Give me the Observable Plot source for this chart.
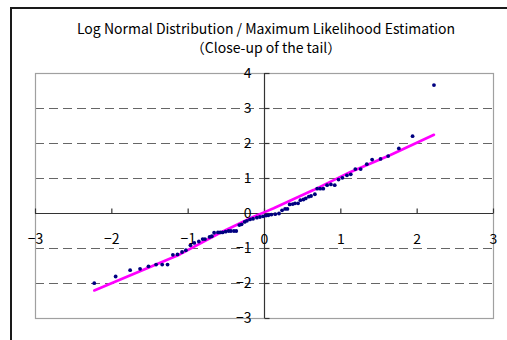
<!DOCTYPE html>
<html>
<head>
<meta charset="utf-8">
<script src="https://cdn.jsdelivr.net/npm/d3@7"></script>
<script src="https://cdn.jsdelivr.net/npm/@observablehq/plot@0.6"></script>
<style>
  html, body { margin: 0; padding: 0; background: #fff; }
  #wrap { position: relative; width: 507px; height: 340px; overflow: hidden; }
  #border { position: absolute; left: 10px; top: 7px; width: 600px; height: 400px; border: 2px solid #1a1a1a; box-sizing: border-box; }
  #chart { position: absolute; left: 0; top: 0; }
</style>
</head>
<body>
<div id="wrap"><div id="border"></div><div id="chart"></div></div>
<script>
// Theoretical quantiles (x) and observed standardized log values (y)
const quantiles = [-2.23,-1.95,-1.76,-1.63,-1.52,-1.42,-1.34,-1.27,-1.20,-1.14,-1.08,-1.03,-0.97,-0.92,-0.86,-0.81,-0.78,-0.72,-0.69,-0.66,-0.61,-0.58,-0.55,-0.51,-0.47,-0.44,-0.40,-0.37,-0.33,-0.30,-0.26,-0.23,-0.19,-0.15,-0.10,-0.06,-0.02,0.02,0.05,0.09,0.14,0.19,0.23,0.27,0.30,0.33,0.37,0.40,0.44,0.47,0.51,0.54,0.58,0.61,0.66,0.69,0.73,0.77,0.82,0.87,0.92,0.97,1.02,1.08,1.13,1.19,1.26,1.34,1.41,1.52,1.62,1.76,1.94,2.22];
const observed = [-1.99,-1.80,-1.62,-1.58,-1.51,-1.46,-1.46,-1.46,-1.18,-1.17,-1.10,-1.05,-0.91,-0.84,-0.80,-0.73,-0.73,-0.67,-0.65,-0.55,-0.54,-0.54,-0.54,-0.52,-0.50,-0.50,-0.50,-0.50,-0.33,-0.31,-0.24,-0.21,-0.17,-0.15,-0.12,-0.10,-0.08,-0.06,-0.05,-0.03,-0.02,0.00,0.09,0.13,0.13,0.26,0.27,0.29,0.29,0.38,0.40,0.43,0.48,0.50,0.55,0.71,0.71,0.71,0.81,0.83,0.81,0.97,1.02,1.09,1.12,1.27,1.27,1.41,1.54,1.56,1.64,1.86,2.21,3.67];
// Fitted (maximum likelihood) line
const fitX = [-2.23,-1.11,-0.58,-0.15,0.00,0.12,0.64,1.12,1.65,2.22];
const fitY = [-2.20,-1.17,-0.55,-0.10,0.04,0.15,0.67,1.18,1.67,2.25];
const xTicks = [-3,-2,-1,0,1,2,3];
const yTicks = [-3,-2,-1,0,1,2,3,4];
const gridY = [-2,-1,1,2,3];
const title = "Log Normal Distribution / Maximum Likelihood Estimation";
const subtitle = "（Close-up of the tail）";

const points = quantiles.map((x, i) => ({x, y: observed[i]}));
const fit = fitX.map((x, i) => ({x, y: fitY[i]}));
const fmt = d => d < 0 ? "\u2212" + (-d) : String(d);
const FONT = "'Noto Sans CJK JP', 'DejaVu Sans', sans-serif";

const tickRight = {draw(ctx) { ctx.moveTo(0, 0); ctx.lineTo(5, 0); }};
const tickUp = {draw(ctx) { ctx.moveTo(0, 0); ctx.lineTo(0, -5); }};

const chart = Plot.plot({
  width: 507,
  height: 340,
  marginLeft: 35,
  marginRight: 14,
  marginTop: 73,
  marginBottom: 22,
  style: {fontFamily: FONT, fontSize: "14px", background: "transparent", overflow: "visible"},
  x: {domain: [-3, 3], axis: null},
  y: {domain: [-3, 4], axis: null},
  marks: [
    Plot.ruleY(gridY, {stroke: "#666", strokeDasharray: "9,5", strokeWidth: 1}),
    Plot.frame({stroke: "#a0a0a0", strokeWidth: 1.2}),
    Plot.ruleX([0], {stroke: "#333", strokeWidth: 1.2}),
    Plot.ruleY([0], {stroke: "#333", strokeWidth: 1.2}),
    Plot.dot(yTicks, {x: () => 0, y: d => d, symbol: tickRight, stroke: "#333", fill: "none", strokeWidth: 1.2}),
    Plot.dot(xTicks, {x: d => d, y: () => 0, symbol: tickUp, stroke: "#333", fill: "none", strokeWidth: 1.2}),
    Plot.text(yTicks, {x: () => 0, y: d => d, text: fmt, textAnchor: "end", dx: -13, fontSize: 14, fill: "#000"}),
    Plot.text(xTicks, {x: d => d, y: () => 0, text: fmt, dy: 26, fontSize: 14, fill: "#000"}),
    Plot.line(fit, {x: "x", y: "y", stroke: "#ff00ff", strokeWidth: 2.6}),
    Plot.dot(points, {x: "x", y: "y", r: 1.9, fill: "#000080", stroke: "none"})
  ]
});

const svg = d3.select(chart);
svg.append("text").attr("x", 266).attr("y", 34).attr("text-anchor", "middle")
  .attr("font-family", FONT).attr("font-size", 14).attr("fill", "#000").text(title);
svg.append("text").attr("x", 266).attr("y", 53).attr("text-anchor", "middle")
  .attr("font-family", FONT).attr("font-size", 14).attr("fill", "#000").text(subtitle);

document.getElementById("chart").appendChild(chart);
</script>
</body>
</html>
